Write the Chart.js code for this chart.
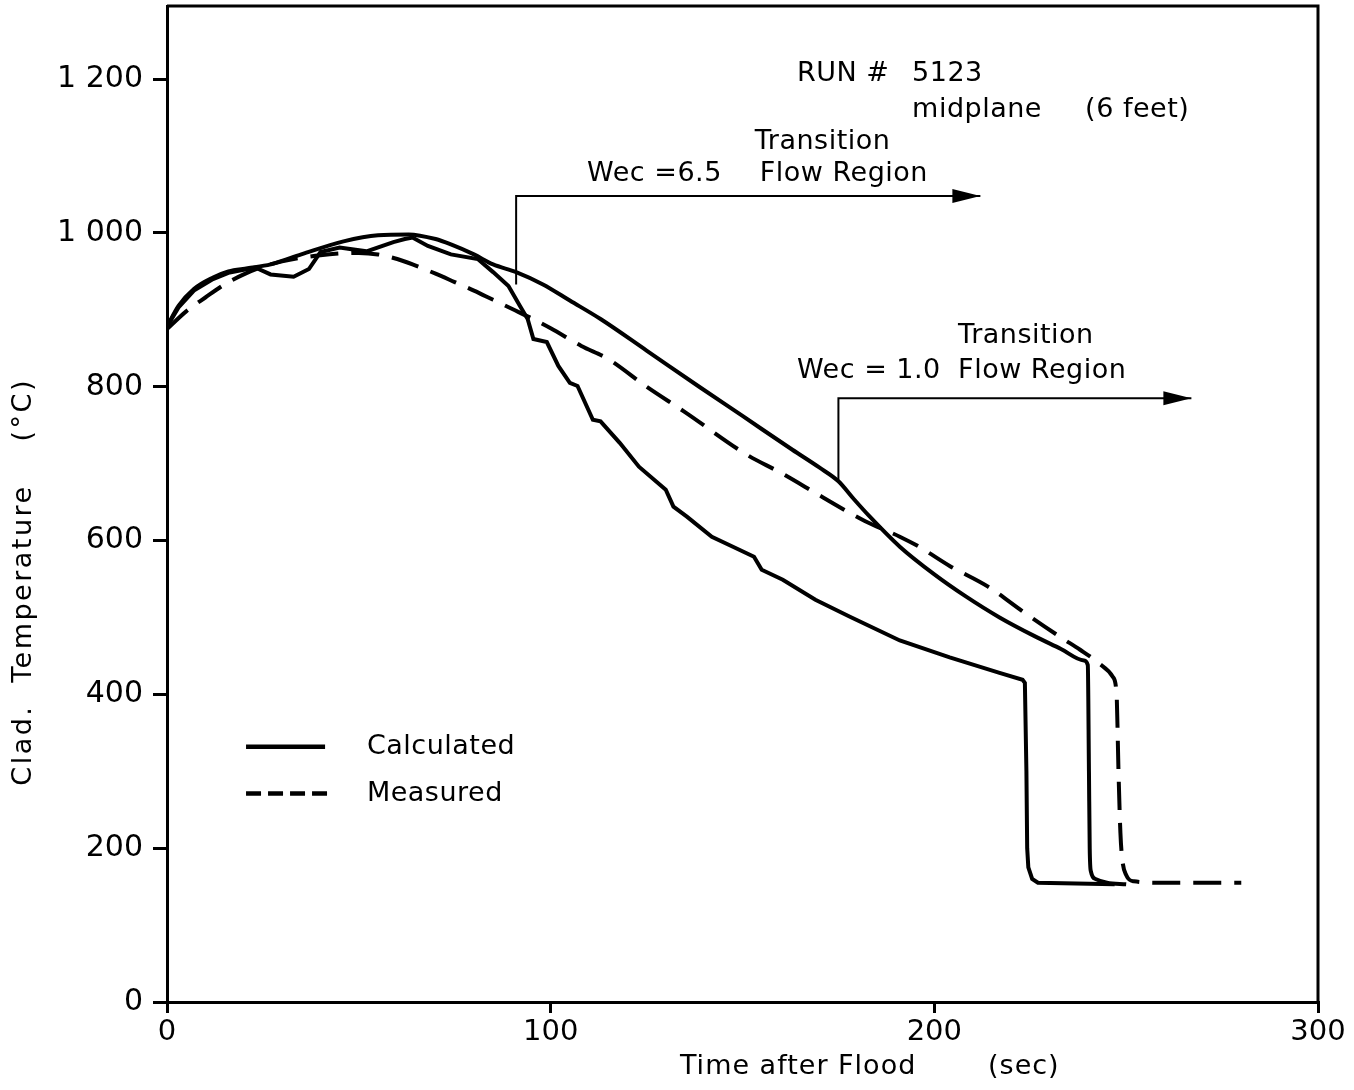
<!DOCTYPE html>
<html><head><meta charset="utf-8">
<script src="https://cdn.jsdelivr.net/npm/chart.js@4.4.1/dist/chart.umd.min.js"></script>
<style>html,body{margin:0;padding:0;background:#fff;}</style>
</head><body>
<canvas id="c" width="1354" height="1090"></canvas>
<script>
// ---- data (time in s, temperature in °C) ----
const xTickValues = [0, 100, 200, 300];
const yTickValues = [0, 200, 400, 600, 800, 1000, 1200];

const measuredX = [0, 5, 10, 15, 20, 25, 30, 40, 50, 55, 60, 65, 70, 75, 80, 85, 90, 95, 100, 108, 115, 125, 135, 151, 160, 171, 182, 191, 196, 204, 214, 223, 233, 238, 243, 246.5, 247.5, 248, 248.5, 249, 250, 252, 260, 280];
const measuredY = [875, 898, 916, 933, 946, 956, 963, 971, 974, 972, 966, 957, 947, 936, 925, 913, 901, 889, 876, 853, 836, 800, 767, 712, 688, 656, 625, 605, 592, 567, 540, 508, 474, 458, 440, 423, 400, 300, 220, 185, 165, 157, 155, 155];

const calc65X = [0, 3, 7, 12, 16, 20, 23, 27, 33, 37, 40, 45, 52, 59, 62, 64, 68, 74, 81, 85, 89, 92, 94, 95.5, 99, 102, 105, 107, 111, 113, 118, 123, 130, 132, 135.5, 142, 147.5, 153, 155, 160.5, 169, 178, 191, 204, 217, 223, 223.6, 224, 224.2, 224.5, 225.5, 227, 247];
const calc65Y = [878, 903, 925, 940, 948, 952, 955, 946, 943, 953, 975, 981, 976, 988, 992, 994, 983, 972, 966, 949, 931, 905, 888, 862, 858, 827, 805, 801, 757, 755, 727, 696, 666, 644, 631, 605, 592, 579, 562, 549, 523, 501, 470, 448, 428, 419, 415, 300, 200, 175, 160, 155, 153];

const calc10X = [0, 3, 7, 12, 16, 21, 27, 35, 46, 55, 63, 70, 74, 80, 85, 91, 98, 105, 113, 125, 139, 150, 163, 170, 175, 179, 183, 191, 200, 208, 217, 226, 233, 239, 240, 240.3, 240.5, 240.8, 242, 245, 250];
const calc10Y = [878, 905, 927, 942, 950, 954, 959, 972, 989, 997, 998, 992, 985, 972, 959, 949, 933, 912, 888, 847, 799, 762, 718, 695, 677, 654, 632, 592, 556, 528, 500, 476, 459, 444, 438, 300, 200, 170, 160, 155, 153];

// transition markers (bracket lines with arrows)
const bracket65X = [91, 91, 212];
const bracket65Y = [933, 1048, 1048];
const bracket10X = [175, 175, 267];
const bracket10Y = [677, 785, 785];

// annotation texts and their anchor (data units)
const noteTexts = ['RUN #', '5123', 'midplane', '(6 feet)', 'Transition', 'Wec =6.5', 'Flow Region', 'Transition', 'Wec = 1.0', 'Flow Region'];
const noteX = [164.2, 194.2, 194.2, 239.3, 153.2, 109.5, 154.5, 206.2, 164.2, 206.2];
const noteY = [1207, 1207, 1160, 1160, 1118, 1076, 1076, 866, 820, 820];

const legendLabels = ['Calculated', 'Measured'];

const zip = (xs, ys) => xs.map((x, i) => ({x: x, y: ys[i]}));

const FONT = '"DejaVu Sans", sans-serif';

const decor = {
  id: 'decor',
  afterDatasetsDraw(chart) {
    const ctx = chart.ctx, xs = chart.scales.x, ys = chart.scales.y;
    const px = v => xs.getPixelForValue(v), py = v => ys.getPixelForValue(v);
    ctx.save();
    // arrowheads
    ctx.fillStyle = '#000';
    [[bracket65X, bracket65Y], [bracket10X, bracket10Y]].forEach(([bx, by]) => {
      const tx = px(bx[2]), ty = py(by[2]);
      ctx.beginPath();
      ctx.moveTo(tx, ty);
      ctx.lineTo(tx - 28, ty - 7);
      ctx.lineTo(tx - 28, ty + 7);
      ctx.closePath();
      ctx.fill();
    });
    // notes
    ctx.font = '27px ' + FONT;
    ctx.textBaseline = 'middle';
    ctx.textAlign = 'left';
    ctx.letterSpacing = '0.5px';
    noteTexts.forEach((t, i) => ctx.fillText(t, px(noteX[i]), py(noteY[i])));
    // legend
    ctx.strokeStyle = '#000';
    ctx.lineWidth = 4.5;
    ctx.beginPath(); ctx.moveTo(px(20.6), py(332)); ctx.lineTo(px(41.2), py(332)); ctx.stroke();
    ctx.setLineDash([15, 7]);
    ctx.beginPath(); ctx.moveTo(px(20.6), py(271)); ctx.lineTo(px(43.3), py(271)); ctx.stroke();
    ctx.setLineDash([]);
    ctx.fillText(legendLabels[0], px(52.1), py(332));
    ctx.fillText(legendLabels[1], px(52.1), py(271));
    // axis titles
    ctx.font = '27px ' + FONT;
    ctx.letterSpacing = '1px';
    ctx.fillText('Time after Flood', px(133.7), py(-85));
    ctx.fillText('(sec)', px(214), py(-85));
    ctx.letterSpacing = '2.5px';
    ctx.textAlign = 'center';
    [['Clad.', 334], ['Temperature', 544], ['(°C)', 770]].forEach(([t, v]) => {
      ctx.save();
      ctx.translate(24, py(v));
      ctx.rotate(-Math.PI / 2);
      ctx.fillText(t, 0, 0);
      ctx.restore();
    });
    ctx.restore();
  },
  afterDraw(chart) {
    const {ctx, chartArea: a} = chart;
    ctx.save();
    ctx.strokeStyle = '#000';
    ctx.lineWidth = 3;
    ctx.beginPath();
    ctx.moveTo(a.left, a.top);
    ctx.lineTo(a.right, a.top);
    ctx.lineTo(a.right, a.bottom);
    ctx.stroke();
    ctx.restore();
  }
};

const lineBase = {showLine: true, pointRadius: 0, borderColor: '#000', fill: false};

new Chart(document.getElementById('c'), {
  type: 'scatter',
  data: {
    datasets: [
      Object.assign({label: 'Measured', data: zip(measuredX, measuredY), borderWidth: 4, borderDash: [28, 13], cubicInterpolationMode: 'monotone'}, lineBase),
      Object.assign({label: 'Calculated Wec=6.5', data: zip(calc65X, calc65Y), borderWidth: 4, tension: 0}, lineBase),
      Object.assign({label: 'Calculated Wec=1.0', data: zip(calc10X, calc10Y), borderWidth: 4, cubicInterpolationMode: 'monotone'}, lineBase),
      Object.assign({label: 'bracket 6.5', data: zip(bracket65X, bracket65Y), borderWidth: 2, tension: 0}, lineBase),
      Object.assign({label: 'bracket 1.0', data: zip(bracket10X, bracket10Y), borderWidth: 2, tension: 0}, lineBase)
    ]
  },
  options: {
    responsive: false,
    animation: false,
    devicePixelRatio: 1,
    layout: {padding: {top: 6, right: 36, left: 0, bottom: 0}},
    plugins: {legend: {display: false}, tooltip: {enabled: false}},
    scales: {
      x: {
        type: 'linear', min: 0, max: 300,
        afterBuildTicks: s => { s.ticks = xTickValues.map(v => ({value: v})); },
        afterFit: s => { s.height = 88; s.paddingLeft = 0; s.paddingRight = 0; },
        ticks: {color: '#000', font: {family: FONT, size: 29}, padding: 2, maxRotation: 0},
        grid: {drawOnChartArea: false, drawTicks: true, tickLength: 11, lineWidth: 3, color: '#000'},
        border: {display: true, width: 3, color: '#000'}
      },
      y: {
        type: 'linear', min: 0, max: 1295,
        afterBuildTicks: s => { s.ticks = yTickValues.map(v => ({value: v})); },
        afterFit: s => { s.width = 167; s.paddingTop = 0; s.paddingBottom = 0; },
        ticks: {color: '#000', font: {family: FONT, size: 30}, padding: 10,
          callback: v => v >= 1000 ? String(v).replace(/(\d)(\d{3})$/, '$1 $2') : String(v)},
        grid: {drawOnChartArea: false, drawTicks: true, tickLength: 14, lineWidth: 3, color: '#000'},
        border: {display: true, width: 3, color: '#000'}
      }
    }
  },
  plugins: [decor]
});
</script>
</body></html>
